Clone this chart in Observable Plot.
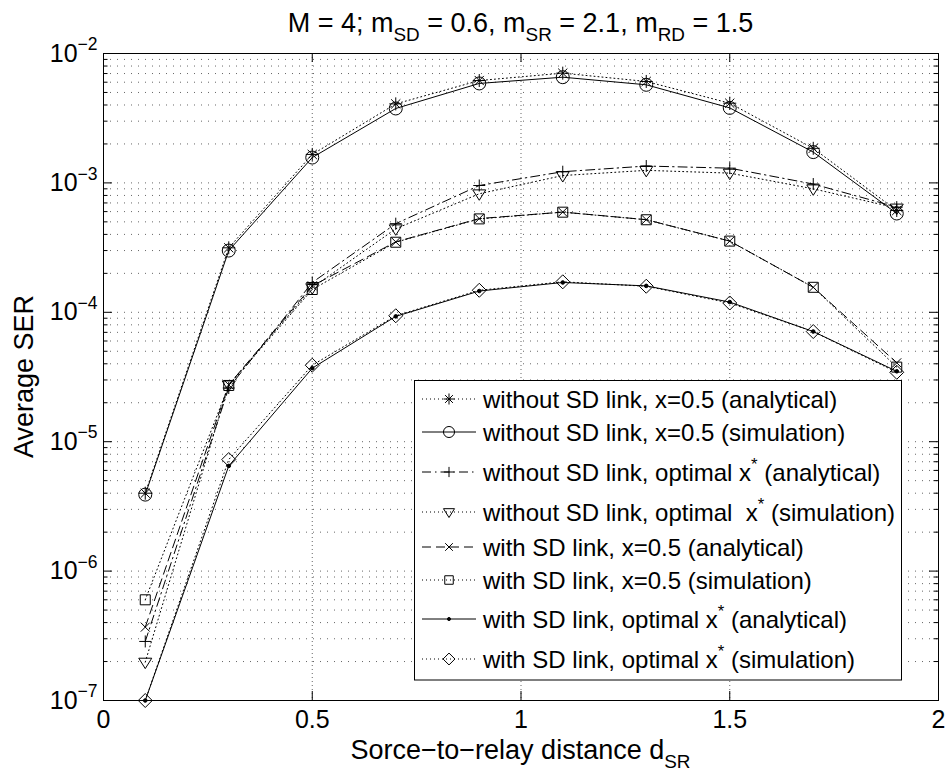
<!DOCTYPE html>
<html>
<head>
<meta charset="utf-8">
<script src="https://cdn.jsdelivr.net/npm/d3@7"></script>
<script src="https://cdn.jsdelivr.net/npm/@observablehq/plot@0.6"></script>
<style>
  body { margin: 0; background: #fff; }
  svg { display: block; }
</style>
</head>
<body>
<div id="chart"></div>
<script>
// Source-to-relay distance values at which SER was evaluated
const distance = [0.1, 0.3, 0.5, 0.7, 0.9, 1.1, 1.3, 1.5, 1.7, 1.9];

// Average SER for each scheme
const noSdHalfAnalytical = [4.0e-6, 3.15e-4, 1.66e-3, 4.08e-3, 6.18e-3, 7.05e-3, 6.08e-3, 4.13e-3, 1.85e-3, 6.12e-4];
const noSdHalfSimulation = [3.9e-6, 3.0e-4, 1.57e-3, 3.76e-3, 5.87e-3, 6.56e-3, 5.73e-3, 3.8e-3, 1.73e-3, 5.8e-4];
const noSdOptAnalytical  = [2.86e-7, 2.6e-5, 1.7e-4, 4.84e-4, 9.55e-4, 1.22e-3, 1.35e-3, 1.30e-3, 9.8e-4, 6.5e-4];
const noSdOptSimulation  = [1.98e-7, 2.75e-5, 1.55e-4, 4.42e-4, 8.24e-4, 1.14e-3, 1.25e-3, 1.19e-3, 9.0e-4, 6.4e-4];
const sdHalfAnalytical   = [3.69e-7, 2.75e-5, 1.6e-4, 3.5e-4, 5.3e-4, 5.95e-4, 5.2e-4, 3.55e-4, 1.56e-4, 4.07e-5];
const sdHalfSimulation   = [6.0e-7, 2.72e-5, 1.5e-4, 3.48e-4, 5.27e-4, 5.94e-4, 5.19e-4, 3.55e-4, 1.56e-4, 3.77e-5];
const sdOptAnalytical    = [1.0e-7, 6.5e-6, 3.7e-5, 9.3e-5, 1.46e-4, 1.70e-4, 1.60e-4, 1.20e-4, 7.1e-5, 3.5e-5];
const sdOptSimulation    = [1.0e-7, 7.28e-6, 3.9e-5, 9.4e-5, 1.48e-4, 1.72e-4, 1.59e-4, 1.18e-4, 7.1e-5, 3.44e-5];

const seriesLabels = [
  "without SD link, x=0.5 (analytical)",
  "without SD link, x=0.5 (simulation)",
  "without SD link, optimal x^{*} (analytical)",
  "without SD link, optimal  x^{*} (simulation)",
  "with SD link, x=0.5 (analytical)",
  "with SD link, x=0.5 (simulation)",
  "with SD link, optimal x^{*} (analytical)",
  "with SD link, optimal x^{*} (simulation)"
];

// Axis ticks and labels
const xTicks = [0, 0.5, 1, 1.5, 2];
const xTickLabels = ["0", "0.5", "1", "1.5", "2"];
const yDecades = [1e-7, 1e-6, 1e-5, 1e-4, 1e-3, 1e-2];
const yTickLabels = ["10^{\u22127}", "10^{\u22126}", "10^{\u22125}", "10^{\u22124}", "10^{\u22123}", "10^{\u22122}"];
const titleText = "M = 4; m_{SD} = 0.6, m_{SR} = 2.1, m_{RD} = 1.5";
const xLabelText = "Sorce\u2212to\u2212relay distance d_{SR}";
const yLabelText = "Average SER";

// ---- layout ----
const W = 947, H = 777;
const M = {top: 53, right: 9, bottom: 77, left: 103};
const plotW = W - M.left - M.right;
const plotH = H - M.top - M.bottom;
const FONT = "'Liberation Sans', Arial, Helvetica, sans-serif";

// minor log ticks 2..9 within each decade
const yMinor = [];
for (let e = -7; e < -2; e++) for (let k = 2; k <= 9; k++) yMinor.push(k * Math.pow(10, e));

// ---- marker shapes (r is the half-extent in px) ----
const rOf = size => Math.sqrt(size / Math.PI);
const asteriskSym = {draw(c, s) { const r = rOf(s), d = r * Math.SQRT1_2;
  c.moveTo(-r, 0); c.lineTo(r, 0); c.moveTo(0, -r); c.lineTo(0, r);
  c.moveTo(-d, -d); c.lineTo(d, d); c.moveTo(-d, d); c.lineTo(d, -d); }};
const circleSym = {draw(c, s) { const r = rOf(s); c.moveTo(r, 0); c.arc(0, 0, r, 0, 2 * Math.PI); c.closePath(); }};
const plusSym = {draw(c, s) { const r = rOf(s); c.moveTo(-r, 0); c.lineTo(r, 0); c.moveTo(0, -r); c.lineTo(0, r); }};
const triDownSym = {draw(c, s) { const r = rOf(s);
  c.moveTo(-r, -0.6 * r); c.lineTo(r, -0.6 * r); c.lineTo(0, 1.0 * r); c.closePath(); }};
const timesSym = {draw(c, s) { const r = rOf(s);
  c.moveTo(-r, -r); c.lineTo(r, r); c.moveTo(-r, r); c.lineTo(r, -r); }};
const squareSym = {draw(c, s) { const r = rOf(s); c.rect(-r, -r, 2 * r, 2 * r); }};
const pointSym = circleSym;
const diamondSym = {draw(c, s) { const r = rOf(s);
  c.moveTo(0, -r); c.lineTo(r, 0); c.lineTo(0, r); c.lineTo(-r, 0); c.closePath(); }};

const DOTTED = "1 3", DASHED = "9 5", DASHDOT = "9 4 1.5 4";

const series = [
  {values: noSdHalfAnalytical, symbol: asteriskSym, r: 6.5, dash: DOTTED},
  {values: noSdHalfSimulation, symbol: circleSym, r: 6.5, dash: null},
  {values: noSdOptAnalytical, symbol: plusSym, r: 6, dash: DASHDOT},
  {values: noSdOptSimulation, symbol: triDownSym, r: 6.5, dash: DOTTED},
  {values: sdHalfAnalytical, symbol: timesSym, r: 4.5, dash: DASHED},
  {values: sdHalfSimulation, symbol: squareSym, r: 5, dash: DOTTED},
  {values: sdOptAnalytical, symbol: pointSym, r: 1.8, dash: null, fill: "black"},
  {values: sdOptSimulation, symbol: diamondSym, r: 7, dash: DOTTED}
].map((s, i) => ({...s, label: seriesLabels[i], data: distance.map((d, j) => ({d, v: s.values[j]}))}));

const marks = [
  Plot.ruleY(yMinor, {stroke: "#000", strokeOpacity: 0.6, strokeDasharray: "1 6"}),
  Plot.ruleY(yDecades.slice(1, -1), {stroke: "#000", strokeOpacity: 0.6, strokeDasharray: "1 6"}),
  Plot.ruleX(xTicks.slice(1, -1), {stroke: "#000", strokeOpacity: 0.6, strokeDasharray: "1 3"})
];
for (const s of series) {
  marks.push(Plot.line(s.data, {x: "d", y: "v", stroke: "black", strokeWidth: 1, strokeDasharray: s.dash}));
}
for (const s of series) {
  marks.push(Plot.dot(s.data, {x: "d", y: "v", symbol: s.symbol, r: s.r, stroke: "black",
    fill: s.fill || "none", strokeWidth: 1}));
}
marks.push(
  Plot.frame({stroke: "black", strokeWidth: 1}),
  // inward ticks on all four sides
  Plot.tickY(yDecades, {y: d => d, stroke: "black", insetRight: plotW - 9}),
  Plot.tickY(yDecades, {y: d => d, stroke: "black", insetLeft: plotW - 9}),
  Plot.tickY(yMinor, {y: d => d, stroke: "black", insetRight: plotW - 4.5}),
  Plot.tickY(yMinor, {y: d => d, stroke: "black", insetLeft: plotW - 4.5}),
  Plot.tickX(xTicks, {x: d => d, stroke: "black", insetTop: plotH - 9}),
  Plot.tickX(xTicks, {x: d => d, stroke: "black", insetBottom: plotH - 9}),
  Plot.axisX({ticks: xTicks, tickSize: 0, tickPadding: 10, fontSize: 25, label: null,
    tickFormat: d => xTickLabels[xTicks.indexOf(d)]}),
  Plot.axisY({ticks: yDecades, tickSize: 0, tickPadding: 6, fontSize: 25, label: null,
    tickFormat: d => yTickLabels[yDecades.indexOf(d)]})
);

const chart = Plot.plot({
  width: W, height: H,
  marginTop: M.top, marginRight: M.right, marginBottom: M.bottom, marginLeft: M.left,
  x: {domain: [0, 2]},
  y: {type: "log", domain: [1e-7, 1e-2]},
  style: {fontFamily: FONT, fontSize: "25px", background: "white", color: "black", overflow: "visible"},
  marks
});
document.getElementById("chart").appendChild(chart);

// TeX-like sub/superscripts: a_{b}, a^{b}
function writeTex(sel, str, size) {
  const small = size * 0.7, sub = size * 0.33, sup = size * 0.45;
  const re = /([_^])\{([^}]*)\}/g;
  let last = 0, off = 0, m;
  const put = (txt, fs, target) => {
    if (!txt) return;
    sel.append("tspan").attr("dy", target - off).style("font-size", fs + "px").text(txt);
    off = target;
  };
  while ((m = re.exec(str))) {
    put(str.slice(last, m.index), size, 0);
    put(m[2], small, m[1] === "_" ? sub : -sup);
    last = re.lastIndex;
  }
  put(str.slice(last), size, 0);
}

const svg = d3.select(chart);
svg.selectAll('g[aria-label="y-axis tick label"] text').each(function () {
  const s = this.textContent;
  const t = d3.select(this);
  t.text("");
  writeTex(t, s, 25);
});

// title
const title = svg.append("text").attr("x", M.left + plotW / 2).attr("y", 32)
  .attr("text-anchor", "middle").style("font-family", FONT).style("white-space", "pre");
writeTex(title, titleText, 27);

// x label
const xl = svg.append("text").attr("x", M.left + plotW / 2).attr("y", 759)
  .attr("text-anchor", "middle").style("font-family", FONT).style("white-space", "pre");
writeTex(xl, xLabelText, 27);

// y label
svg.append("text").attr("transform", `translate(33,${M.top + plotH / 2}) rotate(-90)`)
  .attr("text-anchor", "middle").style("font-family", FONT).style("font-size", "27px")
  .text(yLabelText);

// legend
const lg = svg.append("g").attr("text-anchor", "start");
lg.append("rect").attr("x", 414.5).attr("y", 380.5).attr("width", 487).attr("height", 299.5)
  .attr("fill", "white").attr("stroke", "black").attr("stroke-width", 1);
const rowY = [399, 432, 472, 512, 547, 580, 619, 659];
series.forEach((s, i) => {
  const y = rowY[i];
  lg.append("line").attr("x1", 422).attr("x2", 476).attr("y1", y).attr("y2", y)
    .attr("stroke", "black").attr("stroke-width", 1).attr("stroke-dasharray", s.dash);
  lg.append("path").attr("d", d3.symbol(s.symbol, Math.PI * Math.pow(s.r * 0.85, 2))())
    .attr("transform", `translate(449,${y})`).attr("stroke", "black")
    .attr("fill", s.fill || "none").attr("stroke-width", 1);
  const t = lg.append("text").attr("x", 483).attr("y", y + 8.5).attr("text-anchor", "start")
    .style("font-family", FONT).style("white-space", "pre");
  writeTex(t, s.label, 24);
});
</script>
</body>
</html>
